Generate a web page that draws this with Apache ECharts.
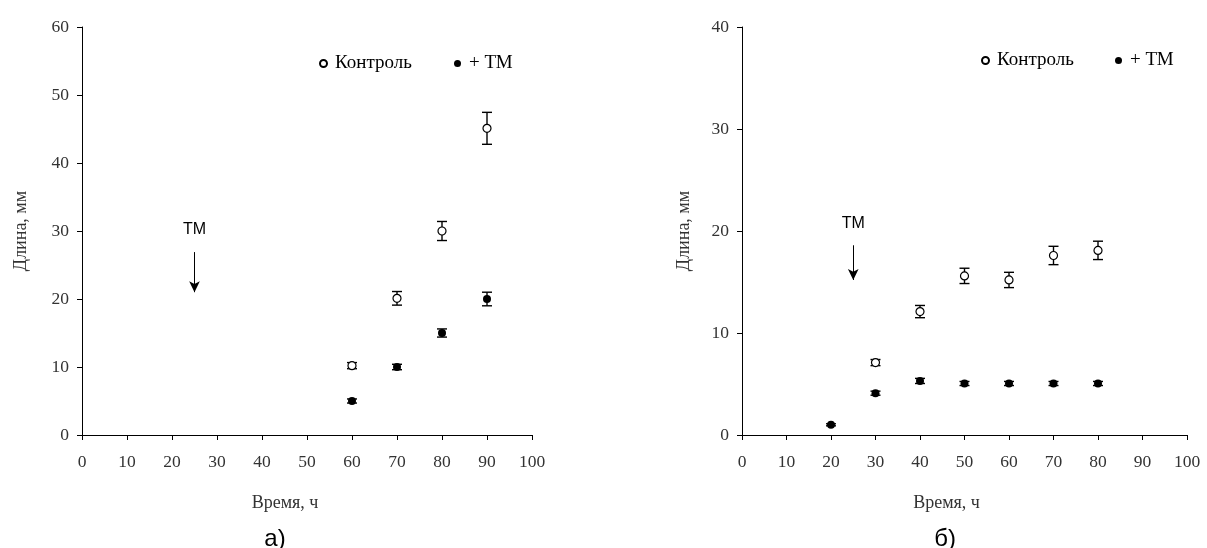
<!DOCTYPE html>
<html>
<head>
<meta charset="utf-8">
<script src="https://cdn.jsdelivr.net/npm/echarts@6/dist/echarts.min.js"></script>
<style>
html,body{margin:0;padding:0;background:#fff;}
#chart{width:1207px;height:548px;}
</style>
</head>
<body>
<div id="chart"></div>
<script>
// ---- Data (panel а) ----
var timeA = [60, 70, 80, 90];
var controlA = [10.2, 20.1, 30.0, 45.1];
var controlErrA = [0.45, 1.0, 1.4, 2.35];
var tmA = [5.0, 10.0, 15.0, 20.0];
var tmErrA = [0.3, 0.4, 0.6, 1.0];

// ---- Data (panel б) ----
var timeB_control = [30, 40, 50, 60, 70, 80];
var controlB = [7.1, 12.1, 15.6, 15.2, 17.6, 18.1];
var controlErrB = [0.3, 0.6, 0.75, 0.75, 0.9, 0.9];
var timeB_tm = [20, 30, 40, 50, 60, 70, 80];
var tmB = [1.0, 4.1, 5.3, 5.05, 5.05, 5.05, 5.05];
var tmErrB = [0.1, 0.2, 0.25, 0.2, 0.2, 0.2, 0.2];

// axis ticks
var xTicks = [0, 10, 20, 30, 40, 50, 60, 70, 80, 90, 100];
var yMaxA = 60, yMaxB = 40;

// annotation (treatment time)
var tmTime = 25;
var arrowA = [26.9, 21.0];
var arrowB = [18.6, 15.2];

var serif = "'Liberation Serif', 'DejaVu Serif', serif";
var sans = "'Liberation Sans', Arial, sans-serif";

function pts(xs, ys) { return xs.map(function (x, i) { return [x, ys[i]]; }); }
function errs(xs, ys, es) { return xs.map(function (x, i) { return [x, ys[i] - es[i], ys[i] + es[i]]; }); }

function errRender(params, api) {
  var x = api.value(0), lo = api.value(1), hi = api.value(2);
  var p1 = api.coord([x, hi]), p2 = api.coord([x, lo]);
  var hw = 5;
  var st = { stroke: '#000', lineWidth: 1.4 };
  return {
    type: 'group',
    children: [
      { type: 'line', shape: { x1: p1[0], y1: p1[1], x2: p2[0], y2: p2[1] }, style: st },
      { type: 'line', shape: { x1: p1[0] - hw, y1: p1[1], x2: p1[0] + hw, y2: p1[1] }, style: st },
      { type: 'line', shape: { x1: p2[0] - hw, y1: p2[1], x2: p2[0] + hw, y2: p2[1] }, style: st }
    ]
  };
}

function xAxisCfg(idx, padR) {
  return {
    type: 'value', gridIndex: idx, min: 0, max: 100, interval: 10,
    name: 'Время, ч', nameLocation: 'middle', nameGap: 59,
    nameTextStyle: { fontFamily: serif, fontSize: 18, color: '#333', padding: [0, padR, 0, 0] },
    axisLine: { show: true, onZero: false, lineStyle: { color: '#000', width: 1 } },
    axisTick: { show: true, inside: false, length: 5, lineStyle: { color: '#000' } },
    axisLabel: { fontFamily: serif, fontSize: 17.5, color: '#333', margin: 18 },
    splitLine: { show: false }
  };
}
function yAxisCfg(idx, max, gap) {
  return {
    type: 'value', gridIndex: idx, min: 0, max: max, interval: 10,
    name: 'Длина, мм', nameLocation: 'middle', nameGap: gap, nameRotate: 90,
    nameTextStyle: { fontFamily: serif, fontSize: 18, color: '#333' },
    axisLine: { show: true, onZero: false, lineStyle: { color: '#000', width: 1 } },
    axisTick: { show: true, inside: false, length: 5, lineStyle: { color: '#000' } },
    axisLabel: { fontFamily: serif, fontSize: 17.5, color: '#333', margin: 13 },
    splitLine: { show: false }
  };
}

var ctrlStyle = { color: '#fff', borderColor: '#000', borderWidth: 1.2, opacity: 1 };
var tmStyle = { color: '#000', borderColor: '#000', borderWidth: 0, opacity: 1 };

function arrowLine(vals) {
  return {
    silent: true,
    symbol: ['none', 'arrow'],
    symbolSize: [8, 11],
    lineStyle: { color: '#000', width: 1, type: 'solid' },
    label: { show: true, position: 'start', formatter: 'ТМ', fontFamily: sans, fontSize: 16, color: '#000', distance: 14 },
    emphasis: { disabled: true },
    data: [[{ coord: [tmTime, vals[0]] }, { coord: [tmTime, vals[1]] }]]
  };
}

function legendItem(name, left, top) {
  return {
    data: [name], left: left, top: top, itemWidth: 7, itemHeight: 7, itemGap: 0,
    selectedMode: false,
    textStyle: { fontFamily: serif, fontSize: 19, color: '#000', padding: [0, 0, 0, 3] }
  };
}

var option = {
  animation: false,
  backgroundColor: '#fff',
  grid: [
    { left: 82, top: 27, width: 450, height: 408, outerBoundsMode: 'none' },
    { left: 742, top: 27, width: 445, height: 408, outerBoundsMode: 'none' }
  ],
  legend: [
    legendItem('Контроль', 314, 49),
    legendItem('+ ТМ', 449, 49),
    legendItem('Контроль', 976, 46),
    legendItem('+ ТМ', 1110, 46)
  ],
  xAxis: [xAxisCfg(0, 44), xAxisCfg(1, 36)],
  yAxis: [yAxisCfg(0, yMaxA, 52), yAxisCfg(1, yMaxB, 49)],
  graphic: [
    { type: 'text', x: 275, y: 539, style: { text: 'а)', font: "24px 'Liberation Sans', Arial, sans-serif", fill: '#000', textAlign: 'center', textVerticalAlign: 'middle' } },
    { type: 'text', x: 945, y: 539, style: { text: 'б)', font: "24px 'Liberation Sans', Arial, sans-serif", fill: '#000', textAlign: 'center', textVerticalAlign: 'middle' } }
  ],
  series: [
    { type: 'custom', name: 'errA_c', xAxisIndex: 0, yAxisIndex: 0, renderItem: errRender, data: errs(timeA, controlA, controlErrA), z: 1, silent: true },
    { type: 'custom', name: 'errA_t', xAxisIndex: 0, yAxisIndex: 0, renderItem: errRender, data: errs(timeA, tmA, tmErrA), z: 1, silent: true },
    { type: 'scatter', name: 'Контроль', xAxisIndex: 0, yAxisIndex: 0, symbol: 'circle', symbolSize: 8, itemStyle: ctrlStyle, data: pts(timeA, controlA), z: 3 },
    { type: 'scatter', name: '+ ТМ', xAxisIndex: 0, yAxisIndex: 0, symbol: 'circle', symbolSize: 8, itemStyle: tmStyle, data: pts(timeA, tmA), z: 3, markLine: arrowLine(arrowA) },

    { type: 'custom', name: 'errB_c', xAxisIndex: 1, yAxisIndex: 1, renderItem: errRender, data: errs(timeB_control, controlB, controlErrB), z: 1, silent: true },
    { type: 'custom', name: 'errB_t', xAxisIndex: 1, yAxisIndex: 1, renderItem: errRender, data: errs(timeB_tm, tmB, tmErrB), z: 1, silent: true },
    { type: 'scatter', name: 'Контроль', xAxisIndex: 1, yAxisIndex: 1, symbol: 'circle', symbolSize: 8, itemStyle: ctrlStyle, data: pts(timeB_control, controlB), z: 3 },
    { type: 'scatter', name: '+ ТМ', xAxisIndex: 1, yAxisIndex: 1, symbol: 'circle', symbolSize: 8, itemStyle: tmStyle, data: pts(timeB_tm, tmB), z: 3, markLine: arrowLine(arrowB) }
  ]
};

var chart = echarts.init(document.getElementById('chart'), null, { renderer: 'canvas' });
chart.setOption(option);
</script>
</body>
</html>
